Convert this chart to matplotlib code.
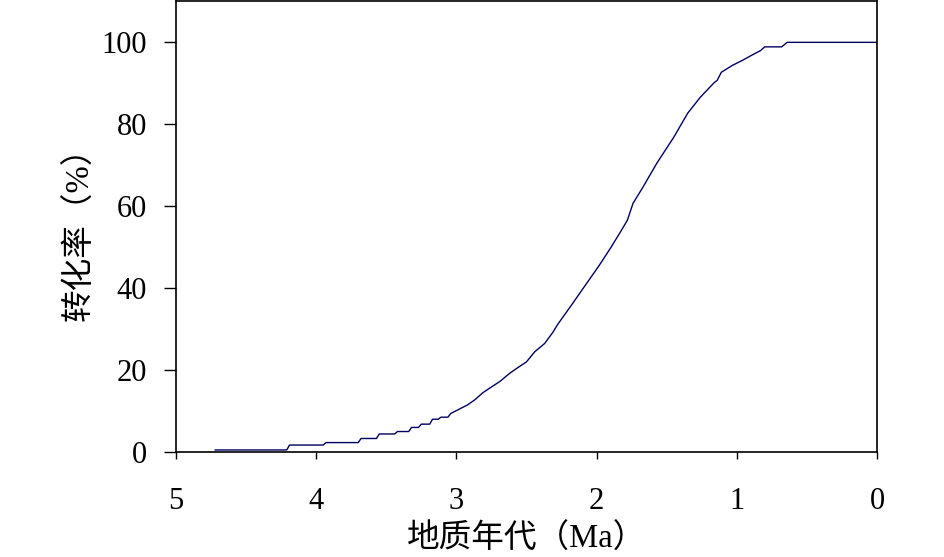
import matplotlib
matplotlib.use("Agg")
from matplotlib import pyplot as plt

plt.rcParams['font.family'] = ['Liberation Serif', 'Noto Sans CJK SC']

# geological age (Ma) and conversion (%)
age = [4.72, 4.21, 4.19, 3.95, 3.93, 3.70, 3.68, 3.57, 3.55, 3.44, 3.42,
       3.34, 3.32, 3.27, 3.25, 3.19, 3.17, 3.13, 3.11, 3.06, 3.04, 3.00,
       2.92, 2.87, 2.81, 2.74, 2.69, 2.62, 2.57, 2.50, 2.44, 2.37, 2.31,
       2.28, 2.17, 2.07, 1.98, 1.90, 1.83, 1.78, 1.74, 1.67, 1.57, 1.45,
       1.35, 1.26, 1.16, 1.14, 1.11, 1.03, 0.96, 0.88, 0.83, 0.80, 0.68,
       0.64, 0.0]
conversion = [0.5, 0.5, 1.7, 1.7, 2.3, 2.3, 3.3, 3.3, 4.4, 4.4, 5.0,
              5.0, 6.0, 6.0, 6.8, 6.8, 8.0, 8.0, 8.5, 8.5, 9.4, 10.1,
              11.5, 12.7, 14.5, 16.1, 17.2, 19.2, 20.4, 22.0, 24.5, 26.5, 29.3,
              31.0, 36.3, 41.2, 45.6, 49.8, 53.7, 56.6, 60.7, 64.6, 70.5, 76.8,
              82.7, 86.6, 90.2, 90.7, 92.7, 94.4, 95.6, 97.1, 98.0, 98.9, 98.9,
              100.0, 100.0]

x_ticks = [5, 4, 3, 2, 1, 0]
y_ticks = [0, 20, 40, 60, 80, 100]

fig = plt.figure(figsize=(9.45, 5.57), dpi=100)
ax = fig.add_axes([0.1862, 0.1885, 0.7418, 0.8105])

ax.plot(age, conversion, color="#000060", linewidth=1.0)

ax.set_xlim(5, 0)
ax.set_ylim(0, 110.2)
ax.set_xticks(x_ticks)
ax.set_yticks(y_ticks)
ax.tick_params(axis='x', direction='out', length=5, width=1, pad=20, labelsize=22)
ax.tick_params(axis='y', direction='out', length=9, width=1, pad=12, labelsize=22)
for s in ax.spines.values():
    s.set_linewidth(1.2)

ax.set_xlabel("地质年代（Ma）", fontsize=23.5, labelpad=6)
ax.set_ylabel("转化率（%）", fontsize=23.5, labelpad=4)

fig.savefig("out.png", dpi=100)
